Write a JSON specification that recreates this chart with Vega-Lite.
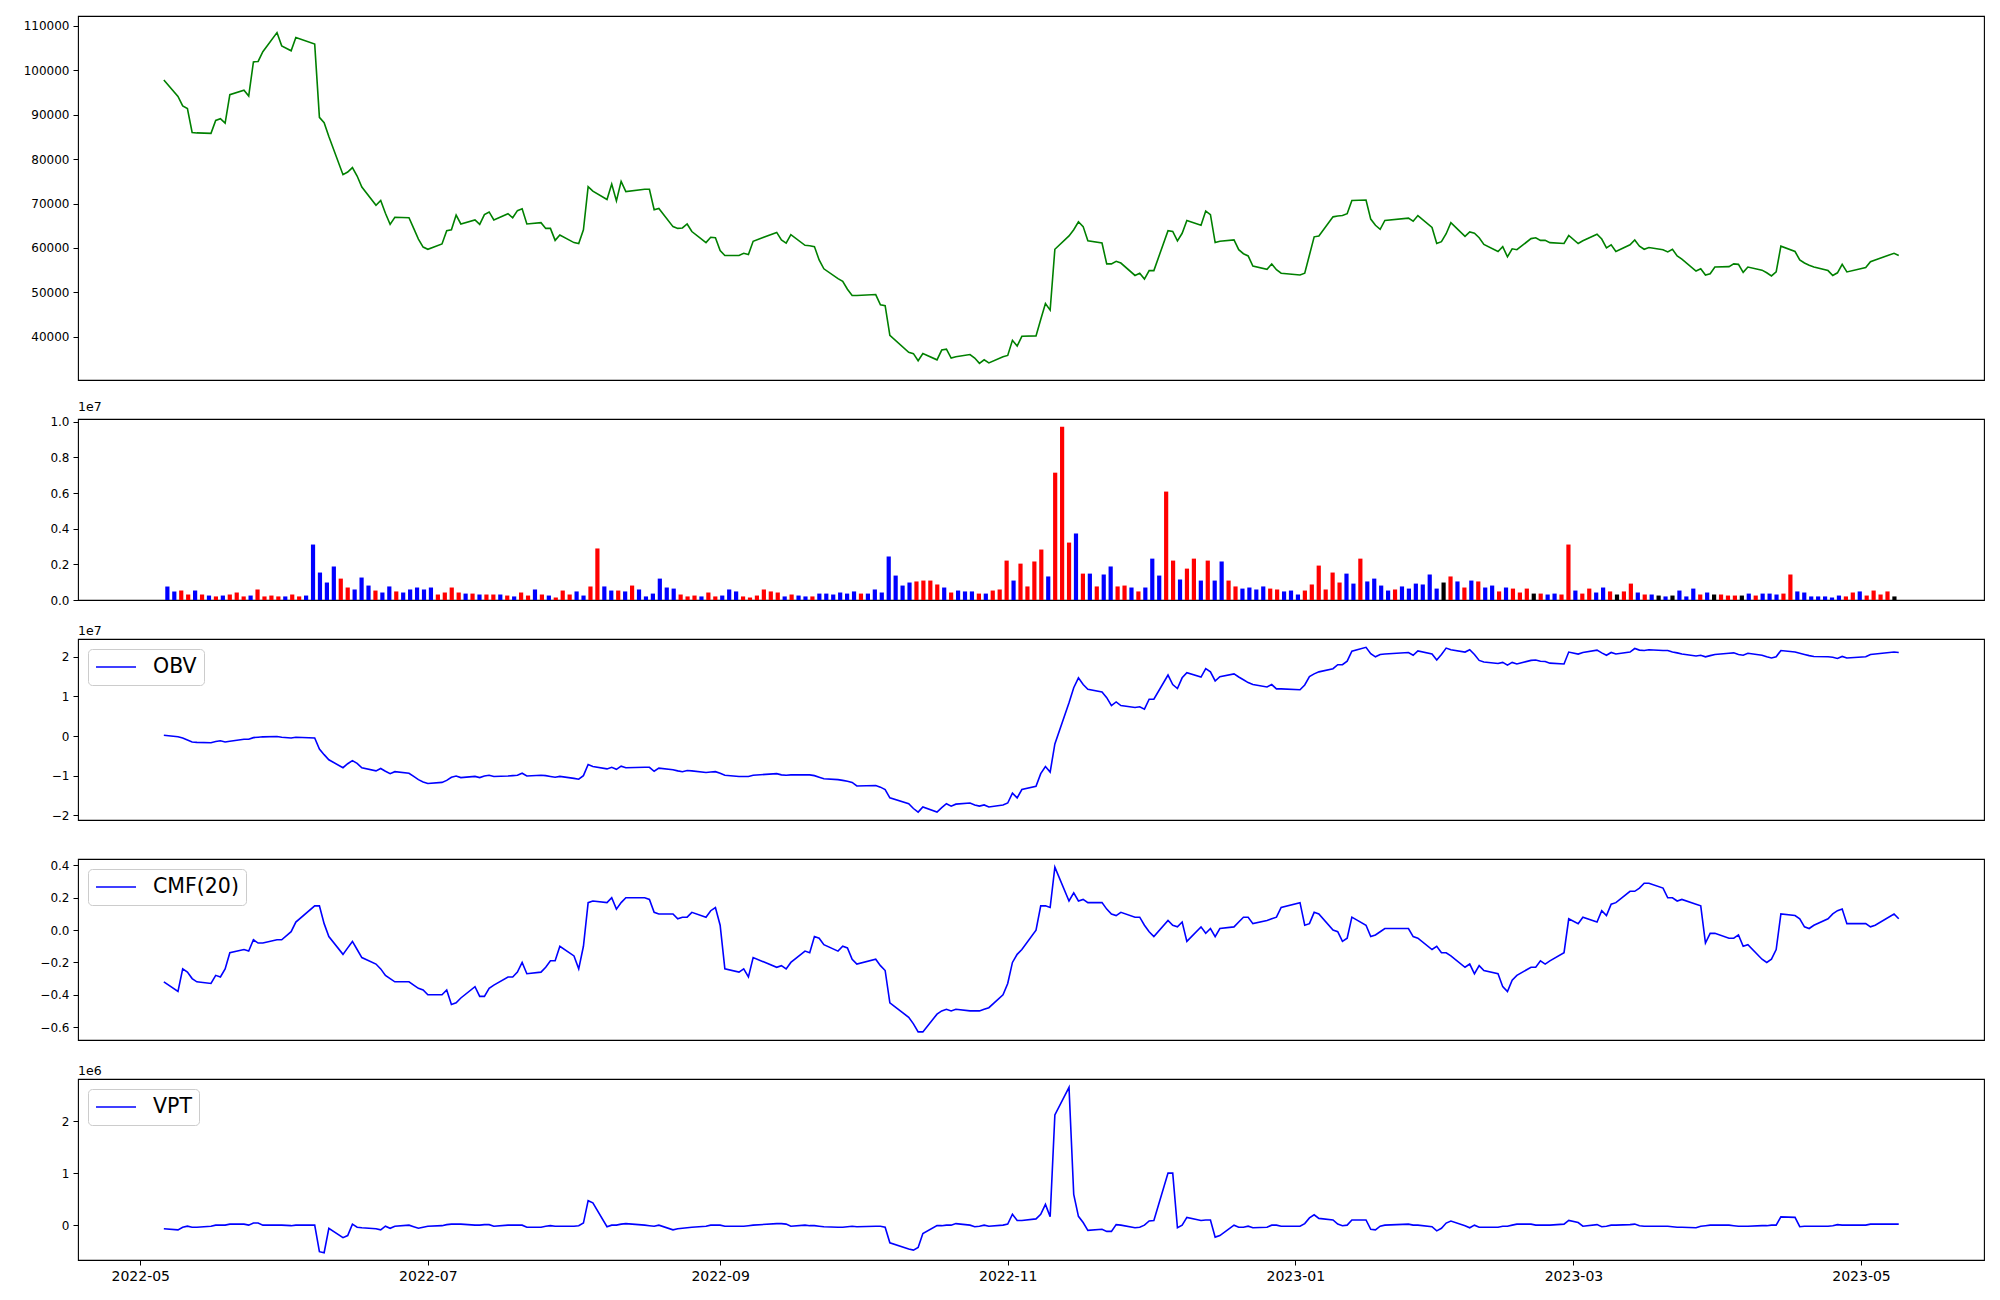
{
"$schema": "https://vega.github.io/schema/vega-lite/v6.json",
"autosize": {"type": "pad"},
"padding": {"left": 22, "top": 15, "right": 15, "bottom": 15},
"background": "white",
"data": {"values": [
{"date":"2022-05-06","close":97800,"volume":756000,"dir":"down","obv":200000,"cmf":-0.32,"vpt":-70000},
{"date":"2022-05-09","close":94100,"volume":476000,"dir":"down","obv":-200000,"cmf":-0.38,"vpt":-90000},
{"date":"2022-05-10","close":92000,"volume":532000,"dir":"up","obv":-500000,"cmf":-0.24,"vpt":-40000},
{"date":"2022-05-11","close":91400,"volume":308000,"dir":"up","obv":-1000000,"cmf":-0.26,"vpt":-20000},
{"date":"2022-05-12","close":86000,"volume":532000,"dir":"down","obv":-1500000,"cmf":-0.30,"vpt":-40000},
{"date":"2022-05-13","close":85900,"volume":308000,"dir":"up","obv":-1600000,"cmf":-0.32,"vpt":-40000},
{"date":"2022-05-16","close":85800,"volume":250000,"dir":"down","obv":-1700000,"cmf":-0.33,"vpt":-20000},
{"date":"2022-05-17","close":88700,"volume":200000,"dir":"up","obv":-1400000,"cmf":-0.28,"vpt":0},
{"date":"2022-05-18","close":89100,"volume":250000,"dir":"down","obv":-1200000,"cmf":-0.29,"vpt":0},
{"date":"2022-05-19","close":88100,"volume":308000,"dir":"up","obv":-1500000,"cmf":-0.24,"vpt":0},
{"date":"2022-05-20","close":94500,"volume":420000,"dir":"up","obv":-1300000,"cmf":-0.14,"vpt":20000},
{"date":"2022-05-23","close":95500,"volume":200000,"dir":"up","obv":-800000,"cmf":-0.12,"vpt":20000},
{"date":"2022-05-24","close":94200,"volume":250000,"dir":"down","obv":-800000,"cmf":-0.13,"vpt":0},
{"date":"2022-05-25","close":101900,"volume":590000,"dir":"up","obv":-400000,"cmf":-0.06,"vpt":40000},
{"date":"2022-05-26","close":102000,"volume":200000,"dir":"up","obv":-300000,"cmf":-0.08,"vpt":40000},
{"date":"2022-05-27","close":104200,"volume":250000,"dir":"up","obv":-200000,"cmf":-0.08,"vpt":0},
{"date":"2022-05-30","close":108500,"volume":200000,"dir":"up","obv":-100000,"cmf":-0.06,"vpt":0},
{"date":"2022-05-31","close":105500,"volume":200000,"dir":"down","obv":-300000,"cmf":-0.06,"vpt":0},
{"date":"2022-06-02","close":104400,"volume":308000,"dir":"up","obv":-500000,"cmf":-0.01,"vpt":-10000},
{"date":"2022-06-03","close":107400,"volume":200000,"dir":"up","obv":-300000,"cmf":0.05,"vpt":0},
{"date":"2022-06-07","close":105900,"volume":250000,"dir":"down","obv":-500000,"cmf":0.15,"vpt":0},
{"date":"2022-06-08","close":89400,"volume":3110000,"dir":"down","obv":-3300000,"cmf":0.15,"vpt":-510000},
{"date":"2022-06-09","close":88200,"volume":1540000,"dir":"down","obv":-4700000,"cmf":0.04,"vpt":-530000},
{"date":"2022-06-10","close":85100,"volume":980000,"dir":"down","obv":-6000000,"cmf":-0.04,"vpt":-60000},
{"date":"2022-06-13","close":76500,"volume":1880000,"dir":"down","obv":-8000000,"cmf":-0.15,"vpt":-240000},
{"date":"2022-06-14","close":77100,"volume":1200000,"dir":"up","obv":-7000000,"cmf":-0.11,"vpt":-200000},
{"date":"2022-06-15","close":78100,"volume":700000,"dir":"up","obv":-6200000,"cmf":-0.07,"vpt":20000},
{"date":"2022-06-16","close":76200,"volume":590000,"dir":"down","obv":-6900000,"cmf":-0.12,"vpt":-40000},
{"date":"2022-06-17","close":73700,"volume":1260000,"dir":"down","obv":-8000000,"cmf":-0.17,"vpt":-50000},
{"date":"2022-06-20","close":69600,"volume":810000,"dir":"down","obv":-8800000,"cmf":-0.21,"vpt":-70000},
{"date":"2022-06-21","close":70700,"volume":530000,"dir":"up","obv":-8200000,"cmf":-0.24,"vpt":-90000},
{"date":"2022-06-22","close":67800,"volume":420000,"dir":"down","obv":-8900000,"cmf":-0.28,"vpt":-20000},
{"date":"2022-06-23","close":65300,"volume":760000,"dir":"down","obv":-9500000,"cmf":-0.30,"vpt":-60000},
{"date":"2022-06-24","close":66900,"volume":480000,"dir":"up","obv":-9000000,"cmf":-0.32,"vpt":-20000},
{"date":"2022-06-27","close":66800,"volume":420000,"dir":"down","obv":-9400000,"cmf":-0.32,"vpt":0},
{"date":"2022-06-28","close":64400,"volume":590000,"dir":"down","obv":-10200000,"cmf":-0.34,"vpt":-30000},
{"date":"2022-06-29","close":62000,"volume":700000,"dir":"down","obv":-11000000,"cmf":-0.36,"vpt":-60000},
{"date":"2022-06-30","close":60200,"volume":590000,"dir":"down","obv":-11600000,"cmf":-0.37,"vpt":-40000},
{"date":"2022-07-01","close":59700,"volume":700000,"dir":"down","obv":-12000000,"cmf":-0.40,"vpt":-20000},
{"date":"2022-07-04","close":60900,"volume":308000,"dir":"up","obv":-11700000,"cmf":-0.40,"vpt":-10000},
{"date":"2022-07-05","close":63900,"volume":420000,"dir":"up","obv":-11200000,"cmf":-0.37,"vpt":10000},
{"date":"2022-07-06","close":64100,"volume":700000,"dir":"up","obv":-10400000,"cmf":-0.46,"vpt":20000},
{"date":"2022-07-07","close":67400,"volume":420000,"dir":"up","obv":-10100000,"cmf":-0.45,"vpt":20000},
{"date":"2022-07-08","close":65400,"volume":360000,"dir":"down","obv":-10500000,"cmf":-0.42,"vpt":20000},
{"date":"2022-07-11","close":66300,"volume":360000,"dir":"up","obv":-10200000,"cmf":-0.35,"vpt":0},
{"date":"2022-07-12","close":65300,"volume":308000,"dir":"down","obv":-10500000,"cmf":-0.41,"vpt":0},
{"date":"2022-07-13","close":67500,"volume":308000,"dir":"up","obv":-10100000,"cmf":-0.41,"vpt":10000},
{"date":"2022-07-14","close":68100,"volume":308000,"dir":"up","obv":-9900000,"cmf":-0.36,"vpt":10000},
{"date":"2022-07-15","close":66300,"volume":308000,"dir":"down","obv":-10200000,"cmf":-0.34,"vpt":-20000},
{"date":"2022-07-18","close":67700,"volume":250000,"dir":"up","obv":-10100000,"cmf":-0.29,"vpt":0},
{"date":"2022-07-19","close":66800,"volume":200000,"dir":"down","obv":-10000000,"cmf":-0.29,"vpt":0},
{"date":"2022-07-20","close":68400,"volume":420000,"dir":"up","obv":-9900000,"cmf":-0.26,"vpt":0},
{"date":"2022-07-21","close":68800,"volume":250000,"dir":"up","obv":-9400000,"cmf":-0.20,"vpt":0},
{"date":"2022-07-22","close":65400,"volume":590000,"dir":"down","obv":-10100000,"cmf":-0.27,"vpt":-40000},
{"date":"2022-07-25","close":65700,"volume":308000,"dir":"up","obv":-9900000,"cmf":-0.26,"vpt":-40000},
{"date":"2022-07-26","close":64400,"volume":250000,"dir":"down","obv":-10000000,"cmf":-0.23,"vpt":-20000},
{"date":"2022-07-27","close":64400,"volume":140000,"dir":"up","obv":-10200000,"cmf":-0.19,"vpt":-10000},
{"date":"2022-07-28","close":61700,"volume":530000,"dir":"up","obv":-10400000,"cmf":-0.19,"vpt":-20000},
{"date":"2022-07-29","close":62900,"volume":308000,"dir":"up","obv":-10200000,"cmf":-0.10,"vpt":-20000},
{"date":"2022-08-01","close":61200,"volume":480000,"dir":"down","obv":-10700000,"cmf":-0.16,"vpt":-20000},
{"date":"2022-08-02","close":61000,"volume":250000,"dir":"down","obv":-10900000,"cmf":-0.24,"vpt":-10000},
{"date":"2022-08-03","close":64100,"volume":760000,"dir":"up","obv":-10000000,"cmf":-0.10,"vpt":40000},
{"date":"2022-08-04","close":73800,"volume":2890000,"dir":"up","obv":-7200000,"cmf":0.17,"vpt":470000},
{"date":"2022-08-05","close":72800,"volume":760000,"dir":"down","obv":-7700000,"cmf":0.18,"vpt":430000},
{"date":"2022-08-08","close":70900,"volume":530000,"dir":"down","obv":-8300000,"cmf":0.17,"vpt":-30000},
{"date":"2022-08-09","close":74400,"volume":530000,"dir":"up","obv":-7900000,"cmf":0.20,"vpt":0},
{"date":"2022-08-10","close":70600,"volume":480000,"dir":"down","obv":-8400000,"cmf":0.13,"vpt":0},
{"date":"2022-08-11","close":75000,"volume":810000,"dir":"up","obv":-7600000,"cmf":0.17,"vpt":20000},
{"date":"2022-08-12","close":72700,"volume":590000,"dir":"down","obv":-8000000,"cmf":0.20,"vpt":30000},
{"date":"2022-08-16","close":73200,"volume":200000,"dir":"down","obv":-7900000,"cmf":0.20,"vpt":0},
{"date":"2022-08-17","close":73200,"volume":360000,"dir":"down","obv":-7900000,"cmf":0.19,"vpt":-10000},
{"date":"2022-08-18","close":68600,"volume":1200000,"dir":"down","obv":-8900000,"cmf":0.11,"vpt":-20000},
{"date":"2022-08-19","close":68900,"volume":700000,"dir":"down","obv":-8100000,"cmf":0.10,"vpt":0},
{"date":"2022-08-22","close":64800,"volume":640000,"dir":"down","obv":-8500000,"cmf":0.10,"vpt":-90000},
{"date":"2022-08-23","close":64400,"volume":308000,"dir":"up","obv":-8800000,"cmf":0.07,"vpt":-70000},
{"date":"2022-08-24","close":64500,"volume":200000,"dir":"up","obv":-9000000,"cmf":0.08,"vpt":-60000},
{"date":"2022-08-25","close":65400,"volume":250000,"dir":"up","obv":-8700000,"cmf":0.08,"vpt":-50000},
{"date":"2022-08-26","close":63700,"volume":200000,"dir":"down","obv":-8800000,"cmf":0.11,"vpt":-40000},
{"date":"2022-08-29","close":61200,"volume":420000,"dir":"up","obv":-9200000,"cmf":0.08,"vpt":-20000},
{"date":"2022-08-30","close":62400,"volume":200000,"dir":"up","obv":-9100000,"cmf":0.12,"vpt":0},
{"date":"2022-08-31","close":62300,"volume":250000,"dir":"down","obv":-9000000,"cmf":0.14,"vpt":0},
{"date":"2022-09-01","close":59400,"volume":590000,"dir":"down","obv":-9400000,"cmf":0.03,"vpt":0},
{"date":"2022-09-02","close":58300,"volume":480000,"dir":"down","obv":-9900000,"cmf":-0.24,"vpt":-20000},
{"date":"2022-09-05","close":58300,"volume":200000,"dir":"up","obv":-10200000,"cmf":-0.26,"vpt":-20000},
{"date":"2022-09-06","close":58800,"volume":140000,"dir":"up","obv":-10200000,"cmf":-0.24,"vpt":-20000},
{"date":"2022-09-07","close":58500,"volume":250000,"dir":"up","obv":-10200000,"cmf":-0.29,"vpt":-10000},
{"date":"2022-09-08","close":61500,"volume":590000,"dir":"up","obv":-9900000,"cmf":-0.17,"vpt":0},
{"date":"2022-09-13","close":63500,"volume":480000,"dir":"up","obv":-9500000,"cmf":-0.23,"vpt":30000},
{"date":"2022-09-14","close":61800,"volume":420000,"dir":"up","obv":-9800000,"cmf":-0.22,"vpt":30000},
{"date":"2022-09-15","close":61100,"volume":200000,"dir":"down","obv":-9900000,"cmf":-0.24,"vpt":20000},
{"date":"2022-09-16","close":63000,"volume":308000,"dir":"up","obv":-9800000,"cmf":-0.20,"vpt":-20000},
{"date":"2022-09-19","close":60600,"volume":250000,"dir":"down","obv":-9800000,"cmf":-0.13,"vpt":0},
{"date":"2022-09-20","close":60500,"volume":200000,"dir":"down","obv":-9800000,"cmf":-0.14,"vpt":-10000},
{"date":"2022-09-21","close":60300,"volume":200000,"dir":"up","obv":-10000000,"cmf":-0.04,"vpt":-10000},
{"date":"2022-09-22","close":57300,"volume":360000,"dir":"down","obv":-10400000,"cmf":-0.05,"vpt":-20000},
{"date":"2022-09-23","close":55300,"volume":360000,"dir":"down","obv":-10800000,"cmf":-0.09,"vpt":-30000},
{"date":"2022-09-26","close":53100,"volume":308000,"dir":"down","obv":-11000000,"cmf":-0.13,"vpt":-40000},
{"date":"2022-09-27","close":52500,"volume":420000,"dir":"down","obv":-11200000,"cmf":-0.10,"vpt":-40000},
{"date":"2022-09-28","close":50700,"volume":360000,"dir":"down","obv":-11400000,"cmf":-0.11,"vpt":-30000},
{"date":"2022-09-29","close":49300,"volume":480000,"dir":"down","obv":-11700000,"cmf":-0.18,"vpt":-20000},
{"date":"2022-09-30","close":49300,"volume":360000,"dir":"up","obv":-12600000,"cmf":-0.21,"vpt":-30000},
{"date":"2022-10-04","close":49500,"volume":360000,"dir":"down","obv":-12500000,"cmf":-0.18,"vpt":-20000},
{"date":"2022-10-05","close":47200,"volume":590000,"dir":"down","obv":-12900000,"cmf":-0.22,"vpt":-20000},
{"date":"2022-10-06","close":47000,"volume":420000,"dir":"down","obv":-13500000,"cmf":-0.25,"vpt":-40000},
{"date":"2022-10-07","close":40300,"volume":2440000,"dir":"down","obv":-15600000,"cmf":-0.45,"vpt":-340000},
{"date":"2022-10-11","close":36500,"volume":1370000,"dir":"down","obv":-17100000,"cmf":-0.54,"vpt":-460000},
{"date":"2022-10-12","close":36200,"volume":810000,"dir":"down","obv":-18300000,"cmf":-0.58,"vpt":-480000},
{"date":"2022-10-13","close":34600,"volume":980000,"dir":"down","obv":-19200000,"cmf":-0.63,"vpt":-430000},
{"date":"2022-10-14","close":36200,"volume":1040000,"dir":"up","obv":-17900000,"cmf":-0.63,"vpt":-160000},
{"date":"2022-10-17","close":34800,"volume":1090000,"dir":"up","obv":-19200000,"cmf":-0.52,"vpt":-10000},
{"date":"2022-10-18","close":37000,"volume":1090000,"dir":"up","obv":-18100000,"cmf":-0.50,"vpt":-10000},
{"date":"2022-10-19","close":37200,"volume":870000,"dir":"up","obv":-17100000,"cmf":-0.49,"vpt":0},
{"date":"2022-10-20","close":35200,"volume":700000,"dir":"down","obv":-17700000,"cmf":-0.50,"vpt":0},
{"date":"2022-10-21","close":35500,"volume":420000,"dir":"up","obv":-17200000,"cmf":-0.49,"vpt":30000},
{"date":"2022-10-24","close":36000,"volume":530000,"dir":"down","obv":-16900000,"cmf":-0.50,"vpt":0},
{"date":"2022-10-25","close":35200,"volume":480000,"dir":"down","obv":-17400000,"cmf":-0.50,"vpt":-30000},
{"date":"2022-10-26","close":34000,"volume":480000,"dir":"down","obv":-17700000,"cmf":-0.50,"vpt":-20000},
{"date":"2022-10-27","close":34800,"volume":360000,"dir":"up","obv":-17400000,"cmf":-0.49,"vpt":0},
{"date":"2022-10-28","close":34100,"volume":360000,"dir":"down","obv":-17900000,"cmf":-0.48,"vpt":-20000},
{"date":"2022-10-31","close":35500,"volume":530000,"dir":"up","obv":-17400000,"cmf":-0.40,"vpt":0},
{"date":"2022-11-01","close":35800,"volume":590000,"dir":"up","obv":-16900000,"cmf":-0.33,"vpt":20000},
{"date":"2022-11-02","close":39200,"volume":2210000,"dir":"up","obv":-14400000,"cmf":-0.20,"vpt":210000},
{"date":"2022-11-03","close":37900,"volume":1090000,"dir":"down","obv":-15600000,"cmf":-0.15,"vpt":90000},
{"date":"2022-11-04","close":40100,"volume":2040000,"dir":"up","obv":-13500000,"cmf":-0.12,"vpt":90000},
{"date":"2022-11-07","close":40200,"volume":760000,"dir":"up","obv":-12700000,"cmf":0.00,"vpt":120000},
{"date":"2022-11-08","close":43900,"volume":2160000,"dir":"up","obv":-9500000,"cmf":0.15,"vpt":210000},
{"date":"2022-11-09","close":47500,"volume":2830000,"dir":"up","obv":-7700000,"cmf":0.15,"vpt":400000},
{"date":"2022-11-10","close":46000,"volume":1320000,"dir":"down","obv":-9100000,"cmf":0.14,"vpt":160000},
{"date":"2022-11-11","close":59700,"volume":7140000,"dir":"up","obv":-2000000,"cmf":0.39,"vpt":2120000},
{"date":"2022-11-14","close":62700,"volume":9720000,"dir":"up","obv":8400000,"cmf":0.18,"vpt":2650000},
{"date":"2022-11-15","close":64100,"volume":3220000,"dir":"up","obv":12200000,"cmf":0.23,"vpt":590000},
{"date":"2022-11-16","close":65900,"volume":3730000,"dir":"down","obv":14700000,"cmf":0.18,"vpt":170000},
{"date":"2022-11-17","close":64800,"volume":1480000,"dir":"up","obv":13000000,"cmf":0.19,"vpt":50000},
{"date":"2022-11-18","close":61600,"volume":1480000,"dir":"down","obv":11800000,"cmf":0.17,"vpt":-100000},
{"date":"2022-11-21","close":61100,"volume":760000,"dir":"up","obv":11100000,"cmf":0.17,"vpt":-80000},
{"date":"2022-11-22","close":56400,"volume":1430000,"dir":"down","obv":9700000,"cmf":0.13,"vpt":-120000},
{"date":"2022-11-23","close":56400,"volume":1880000,"dir":"down","obv":7700000,"cmf":0.10,"vpt":-120000},
{"date":"2022-11-24","close":57000,"volume":760000,"dir":"up","obv":8600000,"cmf":0.09,"vpt":10000},
{"date":"2022-11-25","close":56600,"volume":810000,"dir":"up","obv":7700000,"cmf":0.11,"vpt":0},
{"date":"2022-11-28","close":53800,"volume":700000,"dir":"down","obv":7200000,"cmf":0.08,"vpt":-50000},
{"date":"2022-11-29","close":54300,"volume":480000,"dir":"up","obv":7400000,"cmf":0.08,"vpt":-40000},
{"date":"2022-11-30","close":53000,"volume":700000,"dir":"down","obv":6800000,"cmf":0.03,"vpt":0},
{"date":"2022-12-01","close":54900,"volume":2320000,"dir":"down","obv":9300000,"cmf":-0.01,"vpt":80000},
{"date":"2022-12-02","close":54900,"volume":1370000,"dir":"down","obv":9300000,"cmf":-0.04,"vpt":90000},
{"date":"2022-12-05","close":63900,"volume":6080000,"dir":"up","obv":15400000,"cmf":0.06,"vpt":1000000},
{"date":"2022-12-06","close":63700,"volume":2210000,"dir":"up","obv":13000000,"cmf":0.03,"vpt":1000000},
{"date":"2022-12-07","close":61600,"volume":1150000,"dir":"down","obv":12000000,"cmf":0.02,"vpt":-50000},
{"date":"2022-12-08","close":63300,"volume":1760000,"dir":"up","obv":14700000,"cmf":0.05,"vpt":0},
{"date":"2022-12-09","close":66200,"volume":2320000,"dir":"up","obv":16000000,"cmf":-0.07,"vpt":150000},
{"date":"2022-12-12","close":65100,"volume":1090000,"dir":"down","obv":14900000,"cmf":0.02,"vpt":90000},
{"date":"2022-12-13","close":68300,"volume":2210000,"dir":"up","obv":17000000,"cmf":-0.02,"vpt":100000},
{"date":"2022-12-14","close":67500,"volume":1090000,"dir":"down","obv":16200000,"cmf":0.01,"vpt":100000},
{"date":"2022-12-15","close":61200,"volume":2160000,"dir":"down","obv":13900000,"cmf":-0.04,"vpt":-230000},
{"date":"2022-12-16","close":61500,"volume":1090000,"dir":"up","obv":15000000,"cmf":0.01,"vpt":-200000},
{"date":"2022-12-19","close":61800,"volume":760000,"dir":"up","obv":15700000,"cmf":0.02,"vpt":0},
{"date":"2022-12-20","close":59600,"volume":640000,"dir":"down","obv":14900000,"cmf":0.05,"vpt":-40000},
{"date":"2022-12-21","close":58700,"volume":700000,"dir":"down","obv":14200000,"cmf":0.08,"vpt":-40000},
{"date":"2022-12-22","close":58200,"volume":590000,"dir":"down","obv":13500000,"cmf":0.08,"vpt":-20000},
{"date":"2022-12-23","close":55900,"volume":760000,"dir":"down","obv":13000000,"cmf":0.04,"vpt":-50000},
{"date":"2022-12-26","close":55200,"volume":640000,"dir":"up","obv":12400000,"cmf":0.06,"vpt":-40000},
{"date":"2022-12-27","close":56400,"volume":590000,"dir":"up","obv":13000000,"cmf":0.07,"vpt":0},
{"date":"2022-12-28","close":55100,"volume":480000,"dir":"down","obv":11900000,"cmf":0.08,"vpt":0},
{"date":"2022-12-29","close":54300,"volume":530000,"dir":"down","obv":11900000,"cmf":0.14,"vpt":-20000},
{"date":"2023-01-02","close":53900,"volume":308000,"dir":"down","obv":11700000,"cmf":0.17,"vpt":-20000},
{"date":"2023-01-03","close":54300,"volume":530000,"dir":"up","obv":12900000,"cmf":0.03,"vpt":30000},
{"date":"2023-01-04","close":58400,"volume":870000,"dir":"up","obv":15000000,"cmf":0.04,"vpt":140000},
{"date":"2023-01-05","close":62500,"volume":1930000,"dir":"up","obv":15700000,"cmf":0.11,"vpt":200000},
{"date":"2023-01-06","close":62700,"volume":590000,"dir":"up","obv":16200000,"cmf":0.10,"vpt":130000},
{"date":"2023-01-09","close":67000,"volume":1540000,"dir":"up","obv":17000000,"cmf":0.00,"vpt":100000},
{"date":"2023-01-10","close":67200,"volume":980000,"dir":"up","obv":18000000,"cmf":-0.01,"vpt":20000},
{"date":"2023-01-11","close":67300,"volume":1480000,"dir":"down","obv":18000000,"cmf":-0.07,"vpt":-10000},
{"date":"2023-01-12","close":67700,"volume":920000,"dir":"down","obv":18900000,"cmf":-0.05,"vpt":0},
{"date":"2023-01-13","close":70700,"volume":2320000,"dir":"up","obv":21400000,"cmf":0.08,"vpt":100000},
{"date":"2023-01-16","close":70800,"volume":1040000,"dir":"down","obv":22400000,"cmf":0.03,"vpt":100000},
{"date":"2023-01-17","close":66500,"volume":1200000,"dir":"down","obv":20800000,"cmf":-0.04,"vpt":-80000},
{"date":"2023-01-18","close":65100,"volume":810000,"dir":"down","obv":20000000,"cmf":-0.03,"vpt":-90000},
{"date":"2023-01-19","close":64200,"volume":530000,"dir":"down","obv":20600000,"cmf":-0.01,"vpt":-20000},
{"date":"2023-01-20","close":66200,"volume":590000,"dir":"up","obv":20700000,"cmf":0.01,"vpt":0},
{"date":"2023-01-25","close":66700,"volume":760000,"dir":"down","obv":21100000,"cmf":0.01,"vpt":20000},
{"date":"2023-01-26","close":66000,"volume":640000,"dir":"down","obv":20400000,"cmf":-0.04,"vpt":0},
{"date":"2023-01-27","close":67300,"volume":920000,"dir":"down","obv":21500000,"cmf":-0.05,"vpt":0},
{"date":"2023-01-30","close":64600,"volume":870000,"dir":"down","obv":20700000,"cmf":-0.12,"vpt":-30000},
{"date":"2023-01-31","close":61000,"volume":1430000,"dir":"down","obv":19200000,"cmf":-0.10,"vpt":-110000},
{"date":"2023-02-01","close":61400,"volume":640000,"dir":"down","obv":20600000,"cmf":-0.14,"vpt":-60000},
{"date":"2023-02-02","close":63200,"volume":980000,"dir":"flat","obv":22200000,"cmf":-0.14,"vpt":40000},
{"date":"2023-02-03","close":65700,"volume":1320000,"dir":"up","obv":21800000,"cmf":-0.16,"vpt":80000},
{"date":"2023-02-06","close":62600,"volume":1040000,"dir":"down","obv":21200000,"cmf":-0.23,"vpt":-10000},
{"date":"2023-02-07","close":63600,"volume":700000,"dir":"up","obv":21800000,"cmf":-0.21,"vpt":-50000},
{"date":"2023-02-08","close":63300,"volume":1090000,"dir":"down","obv":20600000,"cmf":-0.27,"vpt":0},
{"date":"2023-02-09","close":62300,"volume":1040000,"dir":"up","obv":19100000,"cmf":-0.22,"vpt":-40000},
{"date":"2023-02-10","close":60800,"volume":700000,"dir":"down","obv":18700000,"cmf":-0.25,"vpt":-40000},
{"date":"2023-02-13","close":59200,"volume":810000,"dir":"down","obv":18300000,"cmf":-0.27,"vpt":-40000},
{"date":"2023-02-14","close":60300,"volume":480000,"dir":"up","obv":18600000,"cmf":-0.35,"vpt":-20000},
{"date":"2023-02-15","close":58000,"volume":700000,"dir":"down","obv":17900000,"cmf":-0.38,"vpt":-20000},
{"date":"2023-02-16","close":59800,"volume":640000,"dir":"up","obv":18600000,"cmf":-0.31,"vpt":0},
{"date":"2023-02-17","close":59600,"volume":420000,"dir":"up","obv":18200000,"cmf":-0.28,"vpt":20000},
{"date":"2023-02-20","close":62100,"volume":640000,"dir":"up","obv":19100000,"cmf":-0.23,"vpt":20000},
{"date":"2023-02-21","close":62300,"volume":360000,"dir":"flat","obv":19200000,"cmf":-0.23,"vpt":0},
{"date":"2023-02-22","close":61700,"volume":360000,"dir":"up","obv":18900000,"cmf":-0.19,"vpt":0},
{"date":"2023-02-23","close":61700,"volume":308000,"dir":"down","obv":18800000,"cmf":-0.21,"vpt":0},
{"date":"2023-02-24","close":61200,"volume":360000,"dir":"down","obv":18400000,"cmf":-0.19,"vpt":0},
{"date":"2023-02-27","close":61000,"volume":308000,"dir":"up","obv":18200000,"cmf":-0.14,"vpt":20000},
{"date":"2023-02-28","close":62800,"volume":3110000,"dir":"up","obv":21200000,"cmf":0.07,"vpt":90000},
{"date":"2023-03-02","close":61000,"volume":530000,"dir":"down","obv":20700000,"cmf":0.04,"vpt":50000},
{"date":"2023-03-03","close":61600,"volume":360000,"dir":"up","obv":21100000,"cmf":0.08,"vpt":-20000},
{"date":"2023-03-06","close":63100,"volume":640000,"dir":"up","obv":21700000,"cmf":0.05,"vpt":10000},
{"date":"2023-03-07","close":62000,"volume":420000,"dir":"down","obv":21000000,"cmf":0.12,"vpt":-30000},
{"date":"2023-03-08","close":60000,"volume":700000,"dir":"down","obv":20400000,"cmf":0.09,"vpt":-20000},
{"date":"2023-03-09","close":60700,"volume":480000,"dir":"up","obv":21100000,"cmf":0.16,"vpt":0},
{"date":"2023-03-10","close":59200,"volume":308000,"dir":"flat","obv":20700000,"cmf":0.17,"vpt":0},
{"date":"2023-03-13","close":60700,"volume":480000,"dir":"up","obv":21200000,"cmf":0.24,"vpt":10000},
{"date":"2023-03-14","close":61800,"volume":920000,"dir":"up","obv":22100000,"cmf":0.24,"vpt":20000},
{"date":"2023-03-15","close":60400,"volume":420000,"dir":"down","obv":21700000,"cmf":0.26,"vpt":-10000},
{"date":"2023-03-16","close":59700,"volume":308000,"dir":"up","obv":21600000,"cmf":0.29,"vpt":-20000},
{"date":"2023-03-17","close":60100,"volume":308000,"dir":"down","obv":21800000,"cmf":0.29,"vpt":-20000},
{"date":"2023-03-20","close":59600,"volume":250000,"dir":"flat","obv":21600000,"cmf":0.26,"vpt":-20000},
{"date":"2023-03-21","close":59100,"volume":200000,"dir":"down","obv":21600000,"cmf":0.20,"vpt":-20000},
{"date":"2023-03-22","close":59700,"volume":250000,"dir":"flat","obv":21200000,"cmf":0.20,"vpt":-30000},
{"date":"2023-03-23","close":58200,"volume":530000,"dir":"down","obv":21000000,"cmf":0.18,"vpt":-40000},
{"date":"2023-03-24","close":57500,"volume":200000,"dir":"down","obv":20700000,"cmf":0.19,"vpt":-40000},
{"date":"2023-03-27","close":54800,"volume":640000,"dir":"down","obv":20200000,"cmf":0.16,"vpt":-50000},
{"date":"2023-03-28","close":55300,"volume":308000,"dir":"up","obv":20400000,"cmf":0.15,"vpt":-20000},
{"date":"2023-03-29","close":53900,"volume":420000,"dir":"down","obv":20000000,"cmf":-0.08,"vpt":-10000},
{"date":"2023-03-30","close":54200,"volume":308000,"dir":"flat","obv":20300000,"cmf":-0.02,"vpt":0},
{"date":"2023-03-31","close":55700,"volume":308000,"dir":"up","obv":20600000,"cmf":-0.02,"vpt":0},
{"date":"2023-04-03","close":55800,"volume":250000,"dir":"up","obv":20900000,"cmf":-0.05,"vpt":0},
{"date":"2023-04-04","close":56400,"volume":250000,"dir":"up","obv":21000000,"cmf":-0.05,"vpt":-10000},
{"date":"2023-04-05","close":56300,"volume":250000,"dir":"flat","obv":20600000,"cmf":-0.03,"vpt":-20000},
{"date":"2023-04-06","close":54500,"volume":360000,"dir":"down","obv":20400000,"cmf":-0.10,"vpt":-20000},
{"date":"2023-04-07","close":55700,"volume":250000,"dir":"up","obv":20900000,"cmf":-0.09,"vpt":-20000},
{"date":"2023-04-10","close":55000,"volume":360000,"dir":"down","obv":20400000,"cmf":-0.18,"vpt":-10000},
{"date":"2023-04-11","close":54400,"volume":360000,"dir":"down","obv":20000000,"cmf":-0.20,"vpt":-10000},
{"date":"2023-04-12","close":53700,"volume":308000,"dir":"down","obv":19700000,"cmf":-0.18,"vpt":0},
{"date":"2023-04-13","close":54600,"volume":360000,"dir":"up","obv":20000000,"cmf":-0.12,"vpt":0},
{"date":"2023-04-14","close":60400,"volume":1430000,"dir":"up","obv":21600000,"cmf":0.10,"vpt":160000},
{"date":"2023-04-17","close":59200,"volume":480000,"dir":"down","obv":21200000,"cmf":0.09,"vpt":150000},
{"date":"2023-04-18","close":57300,"volume":420000,"dir":"down","obv":20900000,"cmf":0.07,"vpt":-30000},
{"date":"2023-04-19","close":56600,"volume":200000,"dir":"down","obv":20600000,"cmf":0.02,"vpt":-20000},
{"date":"2023-04-20","close":56100,"volume":200000,"dir":"down","obv":20300000,"cmf":0.01,"vpt":-20000},
{"date":"2023-04-21","close":55700,"volume":200000,"dir":"down","obv":20100000,"cmf":0.03,"vpt":-20000},
{"date":"2023-04-24","close":54900,"volume":140000,"dir":"down","obv":20000000,"cmf":0.07,"vpt":-20000},
{"date":"2023-04-25","close":53800,"volume":250000,"dir":"down","obv":19900000,"cmf":0.10,"vpt":-10000},
{"date":"2023-04-26","close":54400,"volume":200000,"dir":"up","obv":19600000,"cmf":0.12,"vpt":10000},
{"date":"2023-04-27","close":56300,"volume":420000,"dir":"up","obv":20100000,"cmf":0.13,"vpt":0},
{"date":"2023-04-28","close":54600,"volume":480000,"dir":"down","obv":19700000,"cmf":0.04,"vpt":0},
{"date":"2023-05-02","close":55600,"volume":250000,"dir":"up","obv":20000000,"cmf":0.04,"vpt":0},
{"date":"2023-05-03","close":56900,"volume":530000,"dir":"up","obv":20600000,"cmf":0.02,"vpt":20000},
{"date":"2023-05-04","close":57300,"volume":308000,"dir":"up","obv":20700000,"cmf":0.03,"vpt":20000},
{"date":"2023-05-08","close":58800,"volume":480000,"dir":"up","obv":21200000,"cmf":0.10,"vpt":20000},
{"date":"2023-05-09","close":58300,"volume":200000,"dir":"flat","obv":21100000,"cmf":0.07,"vpt":20000}
]},
"spacing": 39,
"bounds": "flush",
"resolve": {"scale": {"x": "independent", "y": "independent", "color": "independent"}, "axis": {"x": "independent", "y": "independent"}, "legend": {"color": "independent"}},
"vconcat": [
{
"width": 1906, "height": 364,
"mark": {"type": "line", "color": "green", "strokeWidth": 1.6},
"encoding": {
"x": {"field": "date", "type": "temporal", "scale": {"type": "utc", "domain": [{"year": 2022, "month": "apr", "date": 17, "hours": 19, "utc": true}, {"year": 2023, "month": "may", "date": 27, "hours": 2, "utc": true}]}, "axis": null},
"y": {"field": "close", "type": "quantitative", "scale": {"domain": [30260, 112230], "nice": false, "zero": false}, "axis": {"title": null, "values": [40000, 50000, 60000, 70000, 80000, 90000, 100000, 110000], "format": "d"}}
}
},
{
"width": 1906, "height": 181,
"title": {"text": "1e7", "anchor": "start", "frame": "group", "fontSize": 12.5, "fontWeight": "normal", "font": "DejaVu Sans", "color": "black", "offset": 2},
"mark": {"type": "bar"},
"encoding": {
"x": {"field": "date", "type": "ordinal", "scale": {"type": "band", "range": [85.9, 1819.9], "paddingInner": 0.395, "paddingOuter": 0.1975}, "axis": null},
"y": {"field": "volume", "type": "quantitative", "scale": {"domain": [0, 10150000], "nice": false}, "axis": {"title": null, "values": [0, 2000000, 4000000, 6000000, 8000000, 10000000], "labelExpr": "format(datum.value / 10000000, '.1f')"}},
"color": {"field": "dir", "type": "nominal", "scale": {"domain": ["up", "down", "flat"], "range": ["red", "blue", "black"]}, "legend": null}
}
},
{
"width": 1906, "height": 181,
"title": {"text": "1e7", "anchor": "start", "frame": "group", "fontSize": 12.5, "fontWeight": "normal", "font": "DejaVu Sans", "color": "black", "offset": 2},
"mark": {"type": "line", "strokeWidth": 1.6},
"encoding": {
"x": {"field": "date", "type": "temporal", "scale": {"type": "utc", "domain": [{"year": 2022, "month": "apr", "date": 17, "hours": 19, "utc": true}, {"year": 2023, "month": "may", "date": 27, "hours": 2, "utc": true}]}, "axis": null},
"y": {"field": "obv", "type": "quantitative", "scale": {"domain": [-21200000, 24500000], "nice": false, "zero": false}, "axis": {"title": null, "values": [-20000000, -10000000, 0, 10000000, 20000000], "labelExpr": "format(datum.value / 10000000, 'd')"}},
"color": {"datum": "OBV", "scale": {"range": ["blue"]}, "legend": {"orient": "top-left", "title": null, "offset": 10, "symbolType": "M-1,0H3", "symbolSize": 400, "symbolStrokeWidth": 1.6, "labelFontSize": 20.5, "labelFont": "DejaVu Sans", "labelColor": "black", "labelOffset": 36, "strokeColor": "#cccccc", "fillColor": "white", "cornerRadius": 4, "padding": 7}}
}
},
{
"width": 1906, "height": 181,
"mark": {"type": "line", "strokeWidth": 1.6},
"encoding": {
"x": {"field": "date", "type": "temporal", "scale": {"type": "utc", "domain": [{"year": 2022, "month": "apr", "date": 17, "hours": 19, "utc": true}, {"year": 2023, "month": "may", "date": 27, "hours": 2, "utc": true}]}, "axis": null},
"y": {"field": "cmf", "type": "quantitative", "scale": {"domain": [-0.68, 0.44], "nice": false, "zero": false}, "axis": {"title": null, "values": [-0.6, -0.4, -0.2, 0, 0.2, 0.4], "format": ".1f"}},
"color": {"datum": "CMF(20)", "scale": {"range": ["blue"]}, "legend": {"orient": "top-left", "title": null, "offset": 10, "symbolType": "M-1,0H3", "symbolSize": 400, "symbolStrokeWidth": 1.6, "labelFontSize": 20.5, "labelFont": "DejaVu Sans", "labelColor": "black", "labelOffset": 36, "strokeColor": "#cccccc", "fillColor": "white", "cornerRadius": 4, "padding": 7}}
}
},
{
"width": 1906, "height": 181,
"title": {"text": "1e6", "anchor": "start", "frame": "group", "fontSize": 12.5, "fontWeight": "normal", "font": "DejaVu Sans", "color": "black", "offset": 2},
"mark": {"type": "line", "strokeWidth": 1.6},
"encoding": {
"x": {"field": "date", "type": "temporal", "scale": {"type": "utc", "domain": [{"year": 2022, "month": "apr", "date": 17, "hours": 19, "utc": true}, {"year": 2023, "month": "may", "date": 27, "hours": 2, "utc": true}]}, "axis": {"title": null, "labelFontSize": 14, "labelExpr": "utcFormat(datum.value, '%Y-%m')", "values": [{"year": 2022, "month": "may", "date": 1, "utc": true}, {"year": 2022, "month": "jul", "date": 1, "utc": true}, {"year": 2022, "month": "sep", "date": 1, "utc": true}, {"year": 2022, "month": "nov", "date": 1, "utc": true}, {"year": 2023, "month": "jan", "date": 1, "utc": true}, {"year": 2023, "month": "mar", "date": 1, "utc": true}, {"year": 2023, "month": "may", "date": 1, "utc": true}]}},
"y": {"field": "vpt", "type": "quantitative", "scale": {"domain": [-670000, 2810000], "nice": false, "zero": false}, "axis": {"title": null, "values": [0, 1000000, 2000000], "labelExpr": "format(datum.value / 1000000, 'd')"}},
"color": {"datum": "VPT", "scale": {"range": ["blue"]}, "legend": {"orient": "top-left", "title": null, "offset": 10, "symbolType": "M-1,0H3", "symbolSize": 400, "symbolStrokeWidth": 1.6, "labelFontSize": 20.5, "labelFont": "DejaVu Sans", "labelColor": "black", "labelOffset": 36, "strokeColor": "#cccccc", "fillColor": "white", "cornerRadius": 4, "padding": 7}}
}
}
],
"config": {
"font": "DejaVu Sans",
"view": {"stroke": "black", "strokeWidth": 1.1},
"axis": {"domain": false, "grid": false, "ticks": true, "tickColor": "black", "tickSize": 5, "tickWidth": 1, "labelFont": "DejaVu Sans", "labelFontSize": 12, "labelColor": "black", "labelPadding": 4, "labelFlush": false, "labelOverlap": false}
}
}
